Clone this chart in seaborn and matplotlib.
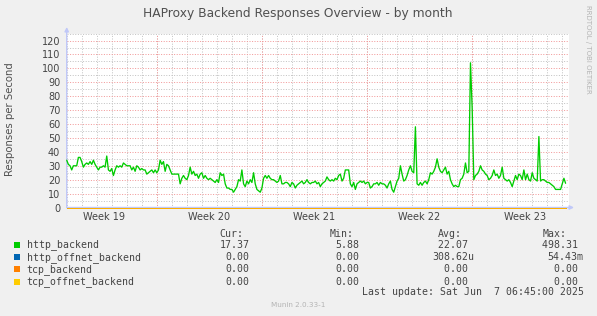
import matplotlib
matplotlib.use("Agg")
import numpy as np
import pandas as pd
import seaborn as sns
import matplotlib.pyplot as plt
import matplotlib.dates as mdates
from matplotlib.ticker import MultipleLocator
from matplotlib.patches import Rectangle

# ---------------- data ----------------
title = "HAProxy Backend Responses Overview - by month"
y_label = "Responses per Second"
series_names = ["http_backend", "http_offnet_backend", "tcp_backend", "tcp_offnet_backend"]
series_colors = ["#00CC00", "#0066B3", "#FF8000", "#FFCC00"]
start_time = "2025-05-05 00:00"
step = "160min"
x_start = "2025-05-05 00:00"
x_end = "2025-06-07 10:00"
week_starts = ["2025-05-04", "2025-05-11", "2025-05-18", "2025-05-25", "2025-06-01"]
week_labels = ["Week 19", "Week 20", "Week 21", "Week 22", "Week 23"]

http_backend = [
    34, 31, 30, 27, 30, 30, 30, 36, 36, 33, 29, 31, 32, 31, 33, 31, 34, 31, 29, 27,
    29, 29, 30, 29, 37, 27, 26, 28, 23, 27, 30, 29, 30, 29, 32, 31, 30, 30, 30, 27,
    29, 26, 30, 29, 27, 28, 27, 27, 24, 25, 26, 27, 25, 27, 25, 27, 34, 31, 33, 26,
    31, 30, 27, 24, 24, 24, 24, 24, 17, 21, 23, 21, 20, 23, 29, 24, 26, 23, 24, 21,
    24, 25, 21, 23, 21, 20, 21, 20, 19, 18, 20, 18, 25, 23, 24, 17, 14, 14, 13, 13,
    11, 13, 15, 20, 19, 27, 17, 15, 19, 17, 20, 18, 25, 17, 13, 12, 11, 14, 21, 23,
    21, 23, 21, 20, 20, 19, 18, 19, 23, 17, 17, 18, 18, 17, 15, 18, 17, 14, 16, 17,
    18,
    19, 17, 18, 20, 18, 17, 18, 18, 19, 17, 18, 15, 17, 18, 19, 22, 20, 19, 20, 19,
    21, 20, 23, 24, 19, 21, 27, 27, 27, 17, 15, 18, 13, 17, 18, 19, 18, 19, 17, 18,
    18, 14, 15, 17, 17, 18, 16, 18, 17, 17, 16, 14, 17, 19, 13, 11, 15, 19, 21, 30,
    24, 19, 20, 23, 27, 30, 26, 25, 58, 17, 16, 18, 16, 18, 19, 17, 20, 25, 24, 26,
    29, 35, 29, 26, 25, 27, 29, 24, 26, 20, 17, 15, 16, 15, 15, 20, 21, 24, 32, 25,
    26, 104, 72, 20, 23, 24, 26, 30, 27, 26, 24, 23, 20, 21, 23, 27, 23, 24, 21, 23,
    29, 21, 20, 19, 20, 18, 15, 19, 23, 20, 24, 23, 20, 27, 20, 24, 20, 19, 25, 21,
    20, 19, 51, 19, 20, 20, 19, 18, 18, 17, 16, 15, 13, 13, 13, 13, 17, 21, 17.4,
]
http_offnet_backend = [0.0] * len(http_backend)
tcp_backend = [0.0] * len(http_backend)
tcp_offnet_backend = [0.0] * len(http_backend)

stat_cur = ["17.37", "0.00", "0.00", "0.00"]
stat_min = ["5.88", "0.00", "0.00", "0.00"]
stat_avg = ["22.07 ", "308.62u", "0.00 ", "0.00 "]
stat_max = ["498.31 ", "54.43m", "0.00 ", "0.00 "]
last_update = "Last update: Sat Jun  7 06:45:00 2025"
footer = "Munin 2.0.33-1"
side_text = "RRDTOOL / TOBI OETIKER"

# ---------------- figure ----------------
sns.set_style("white")
plt.rcParams["font.family"] = ["DejaVu Sans"]

W, H = 597, 316
fig = plt.figure(figsize=(W / 100, H / 100), dpi=100, facecolor="#F0F0F0")

def fx(x):
    return x / W

def fy(y):
    return 1 - y / H

ax_l, ax_r, ax_t, ax_b = 66.7, 568.5, 33.6, 207.5
ax = fig.add_axes([fx(ax_l), fy(ax_b), fx(ax_r - ax_l), (ax_b - ax_t) / H])
ax.set_facecolor("white")

times = pd.date_range(start_time, periods=len(http_backend), freq=step)
df = pd.DataFrame({
    "time": times,
    "http_backend": http_backend,
    "http_offnet_backend": http_offnet_backend,
    "tcp_backend": tcp_backend,
    "tcp_offnet_backend": tcp_offnet_backend,
})

for name, col in zip(series_names, series_colors):
    if name == "http_backend":
        sns.lineplot(data=df, x="time", y=name, ax=ax, color=col, linewidth=0.95,
                     zorder=3, clip_on=False)
    else:
        alpha = 0.65 if name == "tcp_offnet_backend" else 1.0
        sns.lineplot(data=df, x="time", y=name, ax=ax, color=col, linewidth=0.7,
                     zorder=4, clip_on=False, alpha=alpha)

ax.set_xlim(pd.Timestamp(x_start), pd.Timestamp(x_end))
ax.set_ylim(0, 125)

# grid
dot = (0, (1, 1.6))
ax.yaxis.set_major_locator(MultipleLocator(10))
ax.yaxis.set_minor_locator(MultipleLocator(5))
ax.xaxis.set_minor_locator(mdates.DayLocator())
ax.grid(which="minor", axis="both", color="#C4C4C4", linestyle=dot, linewidth=0.72)
ax.grid(which="major", axis="y", color="#F29A9A", linestyle=dot, linewidth=0.72)
ax.grid(which="major", axis="x", visible=False)
for ws in pd.to_datetime(week_starts[1:]):
    ax.axvline(ws, color="#F29A9A", linestyle=dot, linewidth=0.72, zorder=1)
ax.set_axisbelow(True)

# ticks
week_centers = pd.to_datetime(week_starts) + pd.Timedelta(hours=84)
ax.set_xticks(week_centers)
ax.set_xticklabels(week_labels)
ax.tick_params(axis="x", which="both", length=0, pad=3.2, labelsize=7, labelcolor="#444444")
ax.tick_params(axis="y", which="both", length=0, pad=4.6, labelsize=7, labelcolor="#444444")
ax.set_xlabel("")
ax.set_ylabel("")
for s in ax.spines.values():
    s.set_visible(False)

# axis arrows
arrow_col = "#C0C8F8"
ax.annotate("", xy=(0, 1.038), xytext=(0, 0), xycoords="axes fraction",
            arrowprops=dict(arrowstyle="-|>", color=arrow_col, lw=1.0,
                            mutation_scale=6, shrinkA=0, shrinkB=0), zorder=2)
ax.annotate("", xy=(1.011, 0), xytext=(0, 0), xycoords="axes fraction",
            arrowprops=dict(arrowstyle="-|>", color=arrow_col, lw=1.0,
                            mutation_scale=6, shrinkA=0, shrinkB=0), zorder=2)

# texts
fig.text(fx(298), fy(13), title, ha="center", va="center", fontsize=8.8, color="#505050")
fig.text(fx(10.5), fy(119.5), y_label, ha="center", va="center", rotation=90,
         fontsize=7.3, color="#505050")
fig.text(fx(588), fy(5), side_text, ha="center", va="top", rotation=-90,
         fontsize=5, color="#B4B4B4")

mono = dict(family="DejaVu Sans Mono", fontsize=7.1, color="#444444", va="center")
fig.text(fx(219.5), fy(234), "Cur:", ha="left", **mono)
fig.text(fx(329.5), fy(234), "Min:", ha="left", **mono)
fig.text(fx(437.5), fy(234), "Avg:", ha="left", **mono)
fig.text(fx(542.5), fy(234), "Max:", ha="left", **mono)
rows_y = [245, 257.3, 269.3, 281.7]
for i, (name, col) in enumerate(zip(series_names, series_colors)):
    yy = rows_y[i]
    fig.add_artist(Rectangle((fx(14), fy(yy + 3)), fx(6), 6 / H, transform=fig.transFigure,
                             facecolor=col, edgecolor="none"))
    fig.text(fx(26.5), fy(yy), name, ha="left", **mono)
    fig.text(fx(249.5), fy(yy), stat_cur[i], ha="right", **mono)
    fig.text(fx(359.5), fy(yy), stat_min[i], ha="right", **mono)
    fig.text(fx(474.5), fy(yy), stat_avg[i], ha="right", **mono)
    fig.text(fx(583.5), fy(yy), stat_max[i], ha="right", **mono)
fig.text(fx(583.5), fy(292.3), last_update, ha="right", **mono)
fig.text(fx(298), fy(305), footer, ha="center", va="center", fontsize=5.2, color="#B4B4B4")

fig.savefig("out.png", dpi=100, facecolor=fig.get_facecolor())
